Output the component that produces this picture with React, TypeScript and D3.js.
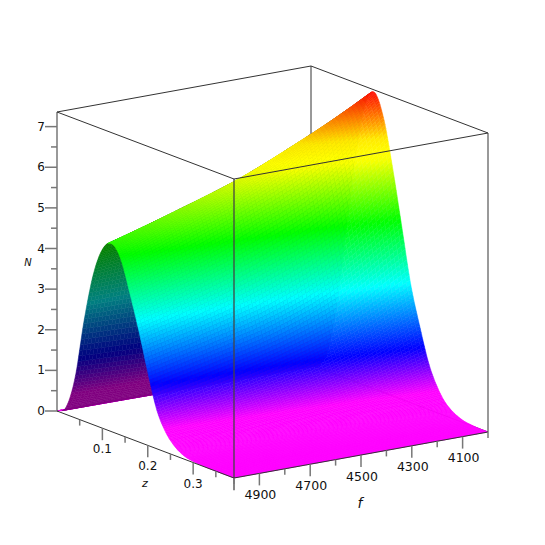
import React, { useRef, useEffect } from 'react';
import * as d3 from 'd3';

// values
const zSamples = [0, 0.02, 0.04, 0.06, 0.08, 0.1, 0.12, 0.14, 0.16, 0.18, 0.2, 0.22, 0.24, 0.26, 0.28, 0.3, 0.33, 0.36, 0.39];
const fSamples = [4000, 4250, 4500, 4750, 5000];
const nAt4000 = [0, 0.1, 0.65, 2.0, 3.9, 5.7, 6.95, 7.3, 6.75, 5.6, 4.25, 2.9, 1.95, 1.12, 0.6, 0.28, 0.07, 0.01, 0];
const nAt4250 = [0, 0.12, 0.75, 2.2, 3.9, 5.35, 6.3, 6.3, 5.45, 4.35, 3.2, 2.1, 1.35, 0.72, 0.36, 0.16, 0.04, 0.005, 0];
const nAt4500 = [0, 0.14, 0.85, 2.35, 3.85, 5.0, 5.65, 5.5, 4.7, 3.65, 2.55, 1.6, 0.95, 0.5, 0.23, 0.1, 0.02, 0, 0];
const nAt4750 = [0, 0.16, 0.92, 2.45, 3.8, 4.7, 5.13, 4.9, 4.1, 3.15, 2.15, 1.25, 0.7, 0.34, 0.14, 0.06, 0.01, 0, 0];
const nAt5000 = [0, 0.18, 1.0, 2.5, 3.7, 4.4, 4.63, 4.35, 3.6, 2.75, 1.8, 0.95, 0.48, 0.22, 0.08, 0.03, 0.005, 0, 0];
const nRows = [nAt4000, nAt4250, nAt4500, nAt4750, nAt5000];

// colour stops along N
const hueStopsN = [0, 0.55, 1.5, 2.95, 4.4, 5.8, 6.3, 7.36];
const hueStops = [300, 300, 240, 180, 120, 62, 55, 0];

const nTicks = [0, 1, 2, 3, 4, 5, 6, 7];
const nMinorTicks = [0.5, 1.5, 2.5, 3.5, 4.5, 5.5, 6.5];
const zTicks = [0.1, 0.2, 0.3];
const zMinorTicks = [0.05, 0.15, 0.25, 0.35];
const fTicks = [4900, 4700, 4500, 4300, 4100];
const fMinorTicks = [5000, 4800, 4600, 4400, 4200, 4000];

const zMax = 0.39;
const nMax = 7.36;

// smooth lookup through a sampled list
const catmull = (xs: number[], ys: number[], x: number) => {
  let i = d3.bisectRight(xs, x) - 1;
  i = Math.max(0, Math.min(xs.length - 2, i));
  const t = (x - xs[i]) / (xs[i + 1] - xs[i]);
  const h = xs[i + 1] - xs[i];
  const slope = (a: number) => {
    const l = Math.max(0, a - 1);
    const r = Math.min(xs.length - 1, a + 1);
    return (ys[r] - ys[l]) / (xs[r] - xs[l]);
  };
  const m0 = slope(i) * h;
  const m1 = slope(i + 1) * h;
  const t2 = t * t;
  const t3 = t2 * t;
  return (2 * t3 - 3 * t2 + 1) * ys[i] + (t3 - 2 * t2 + t) * m0 + (-2 * t3 + 3 * t2) * ys[i + 1] + (t3 - t2) * m1;
};

const surfaceN = (z: number, f: number) => {
  const atF = nRows.map(row => catmull(zSamples, row, z));
  return Math.max(0, catmull(fSamples, atF, f));
};

const App = () => {
  const svgRef = useRef<SVGSVGElement>(null);

  useEffect(() => {
    const svg = d3.select(svgRef.current);
    svg.selectAll('*').remove();

    const zScale = d3.scaleLinear().domain([0, zMax]).range([0, 1]);
    const fScale = d3.scaleLinear().domain([5000, 4000]).range([0, 1]);
    const nScale = d3.scaleLinear().domain([0, nMax]).range([0, 299]);
    const hue = d3.scaleLinear().domain(hueStopsN).range(hueStops).clamp(true);

    const project = (z: number, f: number, n: number): [number, number] => {
      const a = zScale(z);
      const b = fScale(f);
      return [57 + a * 177 + b * 254, 411 + a * 67 - b * 46 - nScale(n)];
    };

    const edge = (g: any, p: [number, number], q: [number, number], color: string, w: number) =>
      g.append('line')
        .attr('x1', p[0]).attr('y1', p[1])
        .attr('x2', q[0]).attr('y2', q[1])
        .attr('stroke', color)
        .attr('stroke-width', w);

    svg.append('defs')
      .append('filter')
      .attr('id', 'soft')
      .attr('color-interpolation-filters', 'sRGB')
      .append('feGaussianBlur')
      .attr('stdDeviation', 0.6);

    // box edges behind the surface
    const back = svg.append('g');
    edge(back, project(0, 4000, 0), project(0, 4000, nMax), '#333', 1);
    edge(back, project(0, 4000, nMax), project(0, 5000, nMax), '#333', 1);
    edge(back, project(0, 4000, nMax), project(zMax, 4000, nMax), '#333', 1);
    edge(back, project(0, 5000, 0), project(0, 4000, 0), '#222', 1);
    edge(back, project(0, 4000, 0), project(zMax, 4000, 0), '#333', 1);

    // surface, far quads first
    const surface = svg.append('g').attr('filter', 'url(#soft)');
    const fSteps = 70;
    const zSteps = 220;
    const line = d3.line();
    const fGrid = d3.range(fSteps + 1).map(i => 4000 + (i / fSteps) * 1000);
    const zGrid = d3.range(zSteps + 1).map(i => (i / zSteps) * zMax);
    const heights = fGrid.map(f => zGrid.map(z => surfaceN(z, f)));

    for (let i = 0; i < fSteps; i++) {
      for (let j = 0; j < zSteps; j++) {
        const a = project(zGrid[j], fGrid[i], heights[i][j]);
        const b = project(zGrid[j + 1], fGrid[i], heights[i][j + 1]);
        const c = project(zGrid[j + 1], fGrid[i + 1], heights[i + 1][j + 1]);
        const d = project(zGrid[j], fGrid[i + 1], heights[i + 1][j]);
        const area = d3.polygonArea([a, b, c, d]);
        const mean = (heights[i][j] + heights[i][j + 1] + heights[i + 1][j + 1] + heights[i + 1][j]) / 4;
        // area sign flips when we look at the underside
        const color = d3.hsl(hue(mean), 1, area < 0 ? 0.5 : 0.25).formatHex();
        surface.append('path')
          .attr('d', line([a, b, c, d]) + 'Z')
          .attr('fill', color)
          .attr('stroke', color)
          .attr('stroke-width', 0.5);
      }
    }

    // box edges in front
    const front = svg.append('g');
    edge(front, project(0, 5000, 0), project(0, 5000, nMax), '#777', 1.5);
    edge(front, project(zMax, 4000, 0), project(zMax, 4000, nMax), '#777', 1.5);
    edge(front, project(zMax, 5000, -0.3), project(zMax, 5000, nMax), '#444', 1.3);
    edge(front, project(0, 5000, nMax), project(zMax, 5000, nMax), '#333', 1);
    edge(front, project(zMax, 5000, nMax), project(zMax, 4000, nMax), '#333', 1);
    edge(front, project(0, 5000, 0), project(zMax, 5000, 0), '#333', 1);
    edge(front, project(zMax, 5000, 0), project(zMax, 4000, 0), '#333', 1);

    const label = (x: number, y: number, text: string, italic = false, size = 12) =>
      svg.append('text')
        .attr('x', x)
        .attr('y', y)
        .attr('text-anchor', 'middle')
        .attr('dominant-baseline', 'central')
        .attr('font-family', 'DejaVu Sans')
        .attr('font-size', size)
        .attr('font-style', italic ? 'italic' : 'normal')
        .attr('fill', '#111')
        .text(text);

    // N axis
    nTicks.forEach(n => {
      const p = project(0, 5000, n);
      edge(front, p, [p[0] - 12, p[1]], '#777', 1.5);
      label(p[0] - 16, p[1], String(n));
    });
    nMinorTicks.forEach(n => {
      const p = project(0, 5000, n);
      edge(front, p, [p[0] - 6, p[1]], '#777', 1.5);
    });

    // z axis
    zTicks.forEach(z => {
      const p = project(z, 5000, 0);
      edge(front, p, [p[0], p[1] + 12], '#777', 1.5);
      label(p[0], p[1] + 21, String(z));
    });
    zMinorTicks.forEach(z => {
      const p = project(z, 5000, 0);
      edge(front, p, [p[0], p[1] + 6], '#777', 1.5);
    });

    // f axis
    fTicks.forEach(f => {
      const p = project(zMax, f, 0);
      edge(front, p, [p[0], p[1] + 12], '#777', 1.5);
      label(p[0] + 1, p[1] + 21, String(f), false, 12.5);
    });
    fMinorTicks.forEach(f => {
      const p = project(zMax, f, 0);
      edge(front, p, [p[0], p[1] + 6], '#777', 1.5);
    });

    label(28, 262, 'N', true, 10);
    label(145, 483, 'z', true, 11);
    label(360, 503, 'f', true, 14);
  }, []);

  return (
    <svg
      ref={svgRef}
      width={545}
      height={545}
      style={{ position: 'absolute', left: 0, top: 0, background: '#fff' }}
    />
  );
};

export default App;
